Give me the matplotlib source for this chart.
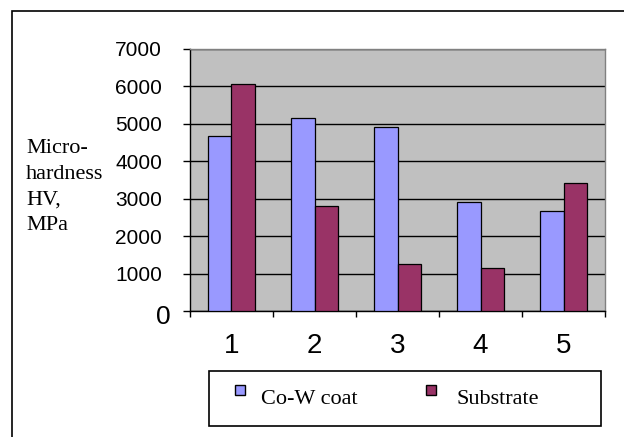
import numpy as np
import matplotlib
matplotlib.use('Agg')
import matplotlib.pyplot as plt
from matplotlib.patches import Rectangle

# data
samples = ['1', '2', '3', '4', '5']
coat_hv = [4680, 5160, 4920, 2910, 2670]
substrate_hv = [6060, 2800, 1260, 1150, 3420]
y_ticks = [1000, 2000, 3000, 4000, 5000, 6000, 7000]
series_names = ['Co-W coat', 'Substrate']
series_colors = ['#9999FF', '#993366']

W, H = 624, 437
SERIF = ['Liberation Serif', 'DejaVu Serif']
SANS = ['Liberation Sans', 'DejaVu Sans']


def px(x, y):
    # pixel (from top-left) -> figure fraction
    return x / W, 1 - y / H


def main():
    fig = plt.figure(figsize=(W / 100, H / 100), dpi=100)
    fig.patch.set_facecolor('white')

    # outer chart frame (cropped at right and bottom)
    fig.add_artist(Rectangle(px(12, 460), (700 - 12) / W, (460 - 11) / H,
                             transform=fig.transFigure, fill=False,
                             edgecolor='black', linewidth=1.2))

    x0, y_top = px(190, 49)
    x1, y_bot = px(605, 311)
    ax = fig.add_axes([x0, y_bot, x1 - x0, y_top - y_bot])
    ax.set_facecolor('#C0C0C0')

    x = np.arange(1, len(samples) + 1)
    bw = 0.28
    ax.bar(x - bw / 2, coat_hv, bw, color=series_colors[0], edgecolor='black',
           linewidth=0.9, zorder=3)
    ax.bar(x + bw / 2, substrate_hv, bw, color=series_colors[1], edgecolor='black',
           linewidth=0.9, zorder=3)

    ax.set_xlim(0.5, 5.5)
    ax.set_ylim(0, 7000)

    ax.set_yticks([0] + y_ticks)
    ax.set_yticklabels([''] + [str(v) for v in y_ticks], family=SANS, fontsize=15)
    ax.tick_params(axis='y', direction='out', length=5, width=1, pad=15)
    ax.yaxis.grid(True, color='black', linewidth=1, zorder=1)
    ax.set_axisbelow(True)

    # the "0" label is bigger than the others in the original
    ax.annotate('0', xy=(0, 0), xycoords=('axes fraction', 'data'),
                xytext=(-14, -4), textcoords='offset points',
                ha='right', va='center', fontsize=19, family=SANS)

    ax.set_xticks(np.arange(0.5, 6.0, 1.0))
    ax.set_xticklabels([])
    ax.set_xticks(x, minor=True)
    ax.set_xticklabels(samples, minor=True, family=SANS, fontsize=20)
    ax.tick_params(axis='x', which='major', direction='out', length=4, width=1)
    ax.tick_params(axis='x', which='minor', length=0, pad=16)

    for side in ['left', 'bottom']:
        ax.spines[side].set_color('black')
        ax.spines[side].set_linewidth(1)
    for side in ['top', 'right']:
        ax.spines[side].set_color('#808080')
        ax.spines[side].set_linewidth(1)

    fig.text(26 / W, 1 - 139 / H, 'Micro-\nhardness\nHV,\nMPa', family=SERIF,
             fontsize=16, ha='left', va='top', linespacing=1.48)

    # legend box drawn by hand to match the original spacing
    fig.add_artist(Rectangle(px(209, 426), (601 - 209) / W, (426 - 371) / H,
                             transform=fig.transFigure, facecolor='white',
                             edgecolor='black', linewidth=1.2))
    for name, color, mx, tx in zip(series_names, series_colors, [235, 426], [261, 456]):
        fig.add_artist(Rectangle(px(mx, 395), 10 / W, 10 / H,
                                 transform=fig.transFigure, facecolor=color,
                                 edgecolor='black', linewidth=1))
        fig.text(tx / W, 1 - 400 / H, name, family=SERIF, fontsize=16,
                 ha='left', va='center')

    fig.savefig('out.png', dpi=100)


if __name__ == '__main__':
    main()
